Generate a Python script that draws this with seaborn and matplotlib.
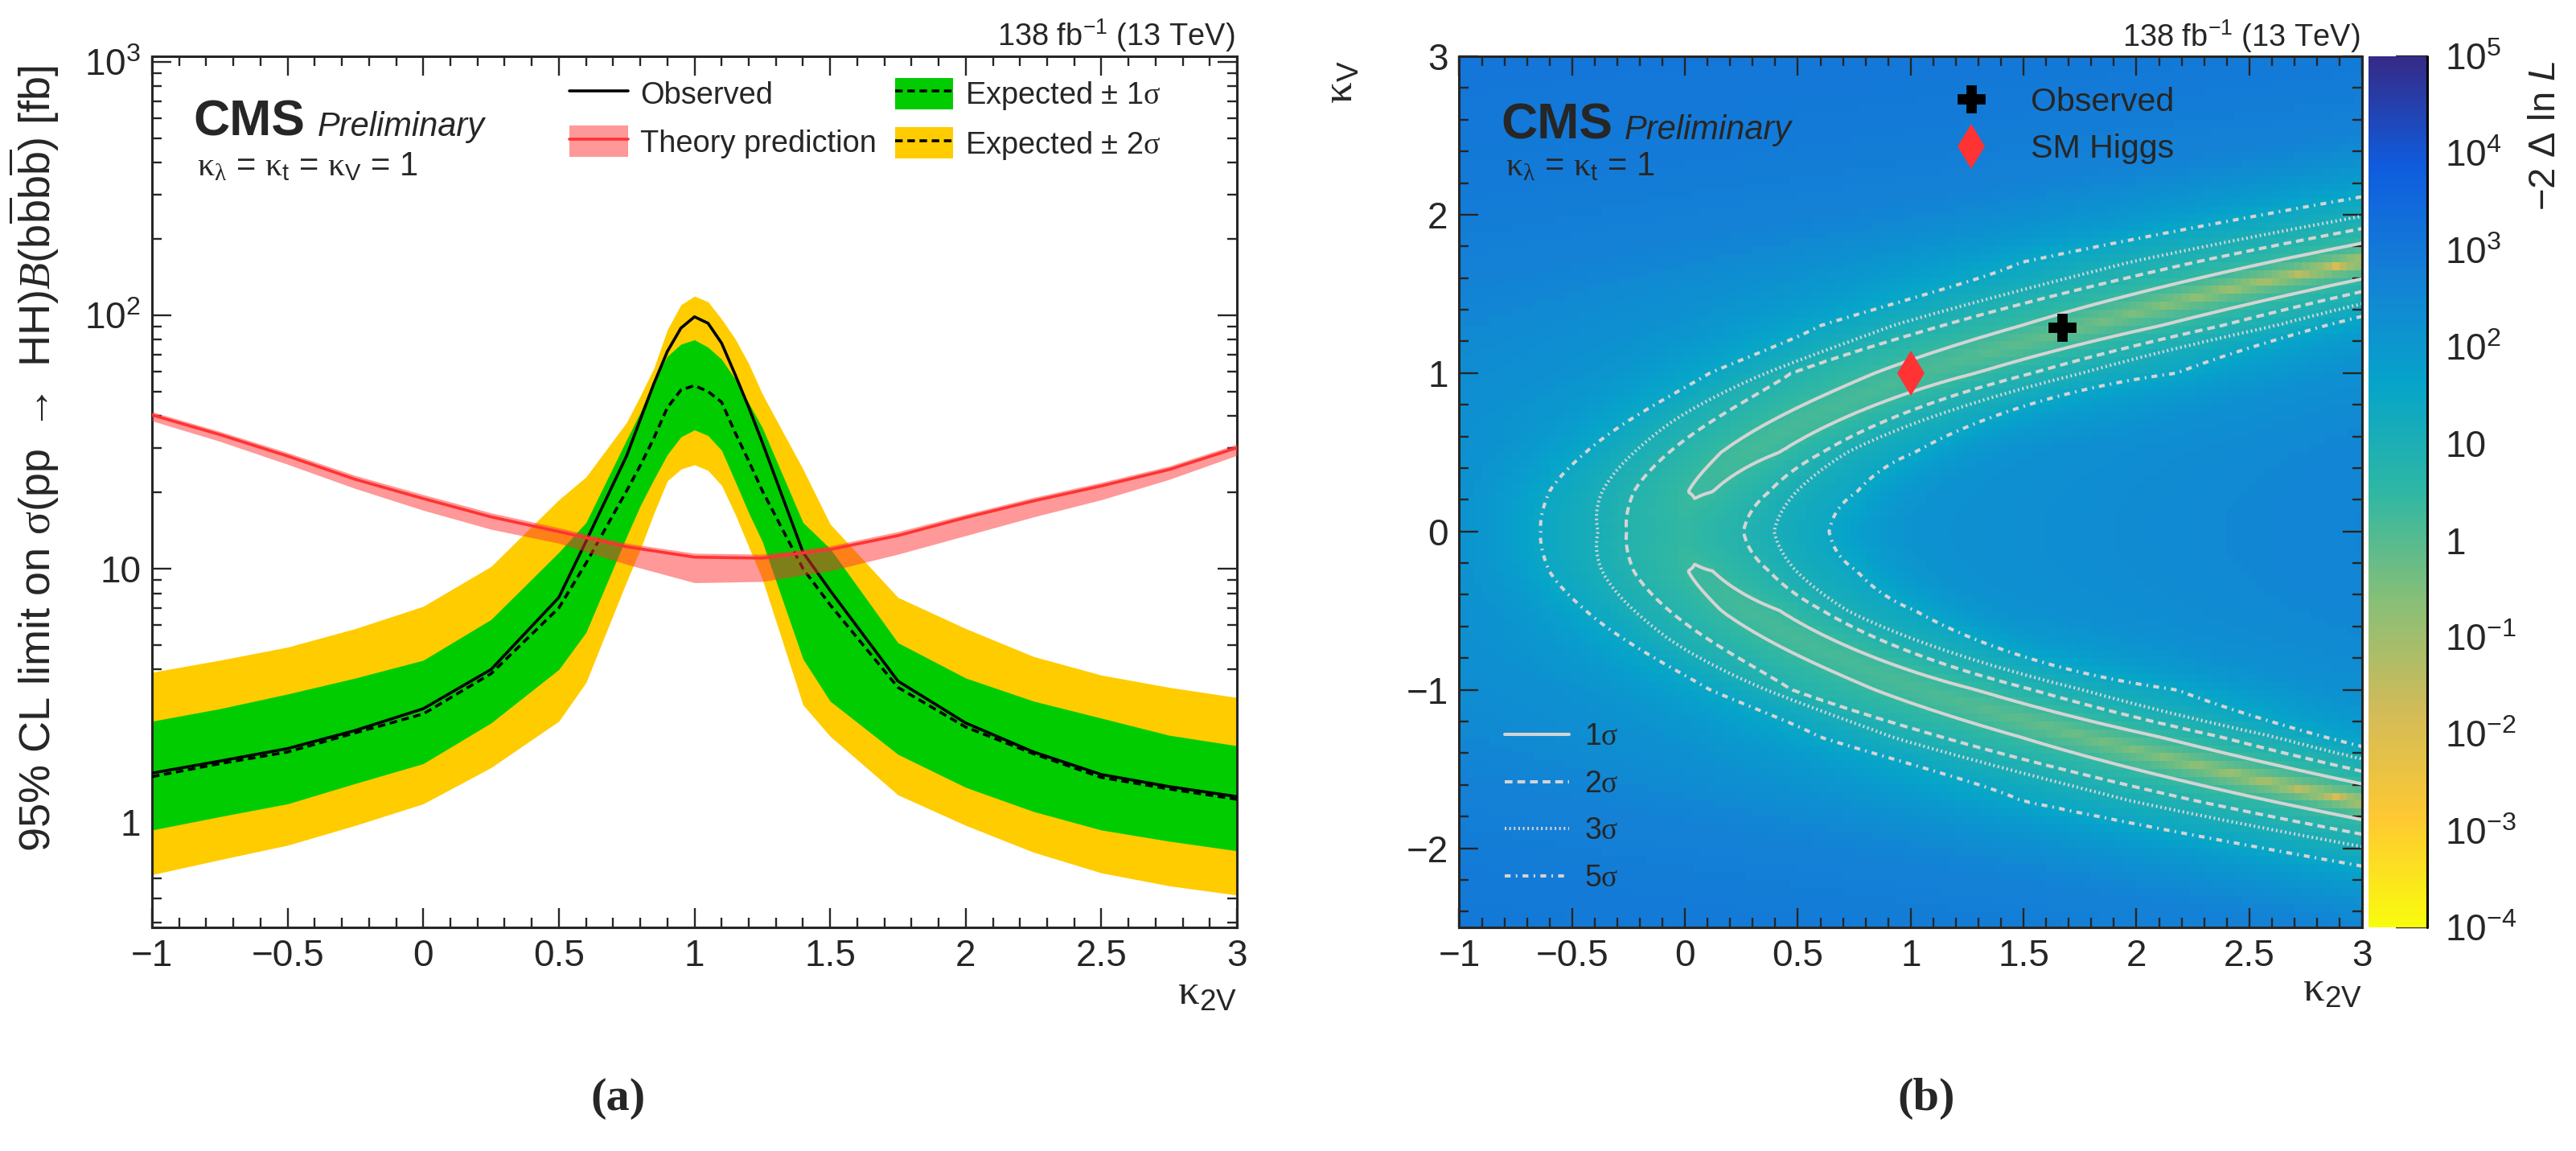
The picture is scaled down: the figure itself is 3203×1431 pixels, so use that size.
import numpy as np
import seaborn as sns
import matplotlib
matplotlib.use("Agg")
import matplotlib.pyplot as plt
from matplotlib.colors import LinearSegmentedColormap, LogNorm
from matplotlib.lines import Line2D
from matplotlib.patches import Patch
from matplotlib.ticker import (MultipleLocator, LogLocator, FixedLocator, FixedFormatter,
                               NullFormatter, FuncFormatter)

sns.set_style("ticks")
plt.rcParams["font.family"] = ["Liberation Sans", "DejaVu Sans"]
plt.rcParams["mathtext.fontset"] = "custom"
plt.rcParams["mathtext.rm"] = "Liberation Sans"
plt.rcParams["mathtext.it"] = "Liberation Sans:italic"
plt.rcParams["mathtext.bf"] = "Liberation Sans:bold"
plt.rcParams["mathtext.sf"] = "Liberation Serif"
plt.rcParams["mathtext.cal"] = "Liberation Serif:italic"

# ---------------- (a) limits vs kappa_2V ----------------
k2v = [-1, -0.75, -0.5, -0.25, 0, 0.25, 0.5, 0.6, 0.75, 0.8, 0.85, 0.9, 0.95, 1.0, 1.05, 1.1,
       1.15, 1.2, 1.25, 1.4, 1.5, 1.75, 2.0, 2.25, 2.5, 2.75, 3.0]
observed = [1.56, 1.74, 1.95, 2.3, 2.8, 4.0, 7.7, 12.8, 27.9, 38.7, 53.6, 72, 89, 98.6, 93, 77.6,
            58.3, 43.3, 31.5, 11.6, 8.2, 3.6, 2.46, 1.89, 1.54, 1.38, 1.26]
expected = [1.51, 1.70, 1.89, 2.25, 2.67, 3.85, 7.0, 10.5, 20.3, 25.5, 32.7, 43.2, 50.7, 52.8, 50, 45.4,
            34.4, 26.6, 20.3, 10.0, 7.2, 3.4, 2.37, 1.86, 1.50, 1.35, 1.23]
exp_1s_hi = [2.5, 2.8, 3.2, 3.7, 4.35, 6.3, 11.6, 15.2, 32.3, 41.3, 55.2, 68.9, 76.9, 80, 74.8, 67,
             56, 45, 36, 15.2, 12.0, 5.1, 3.7, 3.0, 2.57, 2.2, 2.0]
exp_1s_lo = [0.93, 1.05, 1.18, 1.42, 1.7, 2.46, 4.0, 5.6, 13.4, 17.7, 22.5, 28.2, 33.1, 35.3, 33.5, 29.3,
             22.1, 16.6, 12.8, 4.4, 3.0, 1.85, 1.37, 1.1, 0.93, 0.84, 0.77]
exp_2s_hi = [3.9, 4.35, 4.9, 5.8, 7.1, 10.2, 18.7, 23, 37.8, 48, 61.7, 87.7, 110, 119, 113, 96.6,
             80.7, 64.4, 48.9, 24.7, 15.0, 7.7, 5.8, 4.5, 3.8, 3.4, 3.1]
exp_2s_lo = [0.62, 0.71, 0.81, 0.97, 1.18, 1.64, 2.5, 3.55, 8.9, 11.9, 16.5, 22.2, 24.7, 25.7, 24.4, 21.3,
             16.4, 12.2, 9.1, 2.9, 2.18, 1.28, 0.97, 0.76, 0.63, 0.56, 0.515]

th_k2v = [-1, -0.75, -0.5, -0.25, 0, 0.25, 0.5, 0.75, 1.0, 1.25, 1.5, 1.75, 2.0, 2.25, 2.5, 2.75, 3.0]
theory = [40.4, 33.8, 27.8, 22.5, 18.9, 16.0, 14.0, 12.2, 11.1, 11.0, 11.9, 13.5, 15.9, 18.5, 21.2, 24.6, 30.0]
theory_hi = [41.6, 34.8, 28.7, 23.3, 19.6, 16.6, 14.5, 12.6, 11.5, 11.4, 12.3, 14.0, 16.4, 19.1, 21.9, 25.4, 31.0]
theory_lo = [38.3, 31.8, 25.8, 20.7, 17.0, 14.3, 12.6, 10.4, 8.8, 8.9, 9.8, 11.4, 13.5, 16.0, 18.7, 22.5, 28.0]

# ---------------- (b) 2D likelihood scan ----------------
# levels of -2 Delta ln L for 1, 2, 3, 5 sigma (2 parameters)
levels = [2.30, 6.18, 11.83, 28.74]
# |kappa_V| rows where the scan was read; d = kappa_2V - kappa_V^2
kv_nodes = [0.0, 0.25, 0.5, 1.0, 1.3, 1.7, 2.2, 3.0]
valley_min = [2.8, 2.2, 1.6, 1.4, 0.45, 0.003, 0.002, 0.002]
valley_d = [0.0, 0.0, 0.04, 0.06, 0.10, 0.08, 0.08, 0.08]
d1_lo = [np.nan, -0.05, -0.09, -0.16, -0.20, -0.30, -0.35, -0.40]
d1_hi = [np.nan, 0.06, 0.17, 0.29, 0.42, 0.47, 0.50, 0.55]
d2_lo = [-0.26, -0.29, -0.32, -0.53, -0.55, -0.63, -0.70, -0.80]
d2_hi = [0.26, 0.31, 0.36, 0.54, 0.69, 0.72, 0.78, 0.85]
d3_lo = [-0.385, -0.43, -0.475, -0.64, -0.77, -0.92, -1.00, -1.10]
d3_hi = [0.395, 0.43, 0.47, 0.76, 0.93, 0.95, 1.00, 1.10]
d5_lo = [-0.64, -0.665, -0.69, -0.89, -1.09, -1.40, -1.50, -1.60]
d5_hi = [0.64, 0.70, 0.77, 1.18, 1.15, 1.20, 1.25, 1.35]
far_lo = [-1.0, -1.05, -1.15, -1.5, -1.8, -2.2, -2.4, -2.6]
far_hi = [1.0, 1.05, 1.15, 1.8, 1.8, 1.9, 2.0, 2.1]
far_d = [-13.0, -7.0, -3.5, 3.5, 6.0, 10.0]
far_val = [1300, 1000, 550, 500, 800, 1000]

observed_point = ([1.67], [1.29])
sm_point = ([1.0], [1.0])

bird = [(0.2082, 0.1664, 0.5293), (0.0592, 0.3599, 0.8684), (0.0780, 0.5041, 0.8385),
        (0.0232, 0.6419, 0.7914), (0.1802, 0.7178, 0.6425), (0.5301, 0.7492, 0.4662),
        (0.8186, 0.7328, 0.3499), (0.9956, 0.7862, 0.1968), (0.9764, 0.9832, 0.0539)]
cmap = LinearSegmentedColormap.from_list("bird_r", bird[::-1])


def node_sqrt(i, d):
    kd = far_d[:3] + [far_lo[i], d5_lo[i], d3_lo[i], d2_lo[i]]
    kf = far_val[:3] + [160, levels[3], levels[2], levels[1]]
    if not np.isnan(d1_lo[i]):
        kd.append(d1_lo[i]); kf.append(levels[0])
    kd.append(valley_d[i]); kf.append(valley_min[i])
    if not np.isnan(d1_hi[i]):
        kd.append(d1_hi[i]); kf.append(levels[0])
    kd += [d2_hi[i], d3_hi[i], d5_hi[i], far_hi[i]] + far_d[3:]
    kf += [levels[1], levels[2], levels[3], 150] + far_val[3:]
    return np.interp(d, kd, np.sqrt(kf))


def nll(x, y):
    a = np.abs(y)
    d = x - y ** 2
    nodes = np.array(kv_nodes)
    s = np.stack([node_sqrt(i, d) for i in range(len(nodes))])
    idx = np.clip(np.searchsorted(nodes, a) - 1, 0, len(nodes) - 2)
    w = np.clip((a - nodes[idx]) / (nodes[idx + 1] - nodes[idx]), 0, 1)
    s0 = np.take_along_axis(s, idx[None], 0)[0]
    s1 = np.take_along_axis(s, (idx + 1)[None], 0)[0]
    return ((1 - w) * s0 + w * s1) ** 2


def plain(v, pos):
    return f"{v:g}".replace("-", "\u2212")


fig = plt.figure(figsize=(16.015, 7.155), dpi=200)
ax1 = fig.add_axes([0.0590, 0.1943, 0.4212, 0.7568])
ax2 = fig.add_axes([0.5665, 0.1943, 0.3505, 0.7568])
cax = fig.add_axes([0.9194, 0.1943, 0.0228, 0.7568])

green = (0.0, 0.8, 0.0)
yellow = (1.0, 0.8, 0.0)
red = (1.0, 0.2, 0.2)

# panel (a)
ax1.set_yscale("log")
ax1.fill_between(k2v, exp_2s_lo, exp_2s_hi, color=yellow, lw=0, zorder=1)
ax1.fill_between(k2v, exp_1s_lo, exp_1s_hi, color=green, lw=0, zorder=2)
sns.lineplot(x=k2v, y=expected, ax=ax1, color="black", lw=1.3, zorder=3,
             sort=False).lines[-1].set_dashes([2.6, 1.6])
sns.lineplot(x=k2v, y=observed, ax=ax1, color="black", lw=1.3, zorder=4, sort=False)
ax1.fill_between(th_k2v, theory_lo, theory_hi, color=red, alpha=0.5, lw=0, zorder=5)
sns.lineplot(x=th_k2v, y=theory, ax=ax1, color=red, lw=1.3, zorder=6, sort=False)
ax1.set_xlim(-1, 3)
ax1.set_ylim(0.384, 1052)
ax1.set_xlabel("")
ax1.set_ylabel("")

ax1.xaxis.set_major_locator(MultipleLocator(0.5))
ax1.xaxis.set_minor_locator(MultipleLocator(0.1))
ax1.xaxis.set_major_formatter(FuncFormatter(plain))
ax1.yaxis.set_major_locator(FixedLocator([1, 10, 100, 1000]))
ax1.yaxis.set_major_formatter(FixedFormatter(["1", "10", r"$\mathregular{10^{2}}$", r"$\mathregular{10^{3}}$"]))
ax1.yaxis.set_minor_locator(LogLocator(base=10, subs=np.arange(2, 10)))
ax1.yaxis.set_minor_formatter(NullFormatter())

for ax in (ax1, ax2):
    ax.tick_params(which="both", direction="in", top=True, right=True, width=0.85, labelsize=16.5, pad=5)
    ax.tick_params(which="major", length=8.8)
    ax.tick_params(which="minor", length=4.4)
    for sp in ax.spines.values():
        sp.set_linewidth(1.1)

ax1.text(-0.109, 0.538,
         r"95% CL limit on $\mathsf{\sigma}$(pp $\rightarrow$ HH)$\mathcal{B}$(b$\overline{\mathrm{b}}$b$\overline{\mathrm{b}}$) [fb]",
         transform=ax1.transAxes, rotation=90, ha="center", va="center", fontsize=19.5)
ax1.text(1.0, -0.088, r"$\mathsf{\kappa}_{\mathrm{2V}}$", transform=ax1.transAxes,
         ha="right", va="baseline", fontsize=19)
ax1.text(0.0378, 0.9086, "CMS", transform=ax1.transAxes, fontsize=22.5, fontweight="bold", va="baseline")
ax1.text(0.1527, 0.9086, "Preliminary", transform=ax1.transAxes, fontsize=15, style="italic", va="baseline")
ax1.text(0.0415, 0.8633,
         r"$\mathsf{\kappa}_{\mathsf{\lambda}}$ = $\mathsf{\kappa}_{\mathrm{t}}$ = $\mathsf{\kappa}_{\mathrm{V}}$ = 1",
         transform=ax1.transAxes, fontsize=15, va="baseline")
ax1.text(0.998, 1.012, r"138 fb$^{\mathregular{-1}}$ (13 TeV)", transform=ax1.transAxes,
         ha="right", va="baseline", fontsize=13.7)

h_obs = Line2D([], [], color="black", lw=1.3)
h_th = (Patch(facecolor=red, alpha=0.5, lw=0), Line2D([], [], color=red, lw=1.3))
h_1s = (Patch(facecolor=green, lw=0), Line2D([], [], color="black", lw=1.3, dashes=[2.6, 1.6]))
h_2s = (Patch(facecolor=yellow, lw=0), Line2D([], [], color="black", lw=1.3, dashes=[2.6, 1.6]))
ax1.legend([h_obs, h_th, h_1s, h_2s],
           ["Observed", "Theory prediction", r"Expected $\pm$ 1$\mathsf{\sigma}$", r"Expected $\pm$ 2$\mathsf{\sigma}$"],
           ncol=2, loc="upper left", bbox_to_anchor=(0.385, 0.975), frameon=False, fontsize=13.7,
           handlelength=1.9, handleheight=1.2, handletextpad=0.4, columnspacing=0.6, labelspacing=0.5,
           borderpad=0, borderaxespad=0)

# panel (b)
xe = np.linspace(-1, 3, 121)
ye = np.linspace(-2.5, 3, 111)
xc = 0.5 * (xe[1:] + xe[:-1])
yc = 0.5 * (ye[1:] + ye[:-1])
XC, YC = np.meshgrid(xc, yc)
mesh = ax2.pcolormesh(xe, ye, nll(XC, YC), cmap=cmap, norm=LogNorm(1e-4, 1e5), shading="flat",
                      rasterized=True, zorder=0)

xf = np.linspace(-1, 3, 500)
yf = np.linspace(-2.5, 3, 600)
XF, YF = np.meshgrid(xf, yf)
cstyles = ["solid", (0, (2.4, 1.5)), (0, (0.5, 0.9)), (0, (1.8, 1.6, 0.5, 1.6))]
ax2.contour(XF, YF, nll(XF, YF), levels=levels, colors=[(0.83, 0.83, 0.83)], linewidths=1.45,
            linestyles=cstyles, zorder=2)

ax2.plot(*observed_point, ls="none", marker="P", ms=11.5, color="black", zorder=4)
ax2.plot(*sm_point, ls="none", marker="d", ms=14.5, color=red, mew=0, zorder=4)
ax2.set_xlim(-1, 3)
ax2.set_ylim(-2.5, 3)
ax2.xaxis.set_major_locator(MultipleLocator(0.5))
ax2.xaxis.set_minor_locator(MultipleLocator(0.1))
ax2.xaxis.set_major_formatter(FuncFormatter(plain))
ax2.yaxis.set_major_locator(MultipleLocator(1))
ax2.yaxis.set_minor_locator(MultipleLocator(0.2))
ax2.yaxis.set_major_formatter(FuncFormatter(plain))

ax2.text(1.0, -0.085, r"$\mathsf{\kappa}_{\mathrm{2V}}$", transform=ax2.transAxes,
         ha="right", va="baseline", fontsize=19)
ax2.text(-0.1305, 0.995, r"$\mathsf{\kappa}_{\mathrm{V}}$", transform=ax2.transAxes,
         rotation=90, ha="center", va="top", fontsize=19)
ax2.text(0.0459, 0.905, "CMS", transform=ax2.transAxes, fontsize=22.5, fontweight="bold", va="baseline")
ax2.text(0.183, 0.905, "Preliminary", transform=ax2.transAxes, fontsize=15, style="italic", va="baseline")
ax2.text(0.051, 0.8635, r"$\mathsf{\kappa}_{\mathsf{\lambda}}$ = $\mathsf{\kappa}_{\mathrm{t}}$ = 1",
         transform=ax2.transAxes, fontsize=15, va="baseline")
ax2.text(0.998, 1.011, r"138 fb$^{\mathregular{-1}}$ (13 TeV)", transform=ax2.transAxes,
         ha="right", va="baseline", fontsize=13.7)

leg_pts = ax2.legend([Line2D([], [], ls="none", marker="P", ms=11.5, color="black"),
                      Line2D([], [], ls="none", marker="d", ms=14.5, color=red, mew=0)],
                     ["Observed", "SM Higgs"], loc="upper left", bbox_to_anchor=(0.545, 0.965),
                     frameon=False, fontsize=14.8, handlelength=1.2, handletextpad=1.2,
                     labelspacing=0.5, borderpad=0, borderaxespad=0)
ax2.add_artist(leg_pts)
cont_handles = [Line2D([], [], color=(0.83, 0.83, 0.83), lw=1.45, ls=s) for s in cstyles]
ax2.legend(cont_handles, [r"1$\mathsf{\sigma}$", r"2$\mathsf{\sigma}$", r"3$\mathsf{\sigma}$", r"5$\mathsf{\sigma}$"],
           loc="lower left", bbox_to_anchor=(0.05, 0.04), frameon=False, fontsize=13.5,
           handlelength=2.15, handletextpad=0.5, labelspacing=0.6, borderpad=0, borderaxespad=0)

cb = fig.colorbar(mesh, cax=cax)
cb.outline.set_visible(False)
cax.plot([1, 1], [0, 1], transform=cax.transAxes, color="black", lw=1.1, clip_on=False)
cb.set_ticks([1e-4, 1e-3, 1e-2, 1e-1, 1, 10, 1e2, 1e3, 1e4, 1e5])
cb.set_ticklabels([r"$\mathregular{10^{-4}}$", r"$\mathregular{10^{-3}}$", r"$\mathregular{10^{-2}}$",
                   r"$\mathregular{10^{-1}}$", "1", "10", r"$\mathregular{10^{2}}$",
                   r"$\mathregular{10^{3}}$", r"$\mathregular{10^{4}}$", r"$\mathregular{10^{5}}$"])
cax.yaxis.set_minor_locator(LogLocator(base=10, subs=np.arange(2, 10)))
cax.yaxis.set_minor_formatter(NullFormatter())
cax.tick_params(which="both", direction="in", right=True, left=False, width=0.85, labelsize=16.5, pad=8)
cax.tick_params(which="major", length=14)
cax.tick_params(which="minor", length=7.5)
cax.text(3.01, 0.995, r"$-$2 $\Delta$ ln $\mathit{L}$", transform=cax.transAxes, rotation=90,
         ha="center", va="top", fontsize=17)

fig.text(0.2398, 0.0454, "(a)", ha="center", va="center", fontsize=21, fontweight="bold",
         family="Liberation Serif")
fig.text(0.7477, 0.0454, "(b)", ha="center", va="center", fontsize=21, fontweight="bold",
         family="Liberation Serif")

fig.savefig("out.png", dpi=200)
